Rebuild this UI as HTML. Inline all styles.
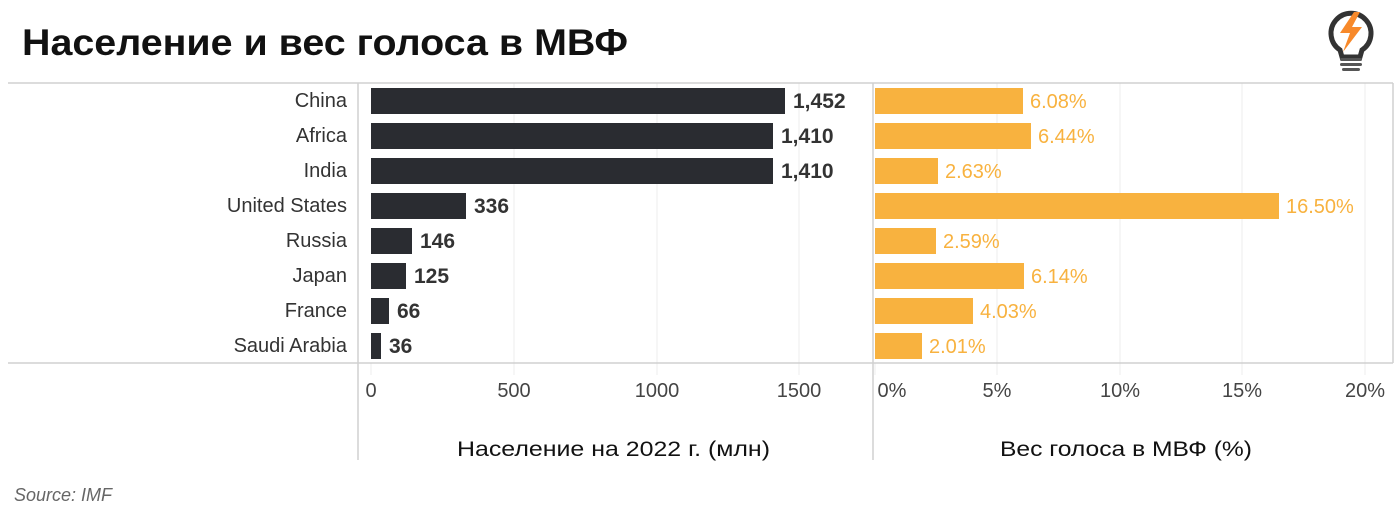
<!DOCTYPE html>
<html><head><meta charset="utf-8"><style>
body{margin:0;background:#fff;width:1400px;height:525px;overflow:hidden;font-family:"Liberation Sans","DejaVu Sans",sans-serif}
</style></head><body>
<svg width="1400" height="525" xmlns="http://www.w3.org/2000/svg" font-family="'Liberation Sans','DejaVu Sans',sans-serif">
<text x="22" y="55" font-size="37" font-weight="bold" fill="#111" textLength="606" lengthAdjust="spacingAndGlyphs">Население и вес голоса в МВФ</text>
<g>
<path d="M1340 50 A20 20 0 1 1 1362 50 L1360 57 L1342 57 Z" fill="none" stroke="#333" stroke-width="5"/>
<polygon points="1354,12 1340,33 1350,33 1343,52 1362,27 1352,27 1360,12" fill="#f7892a"/>
<rect x="1340" y="58" width="22" height="3" rx="1.5" fill="#555"/>
<rect x="1340" y="63" width="22" height="3" rx="1.5" fill="#555"/>
<rect x="1342" y="68" width="18" height="3" rx="1.5" fill="#555"/>
</g>
<g stroke="#ececec" stroke-width="1">
<line x1="514" y1="83" x2="514" y2="375"/><line x1="657" y1="83" x2="657" y2="375"/><line x1="799" y1="83" x2="799" y2="375"/><line x1="371" y1="363" x2="371" y2="375"/>
<line x1="997" y1="83" x2="997" y2="375"/><line x1="1120" y1="83" x2="1120" y2="375"/><line x1="1242" y1="83" x2="1242" y2="375"/><line x1="1365" y1="83" x2="1365" y2="375"/><line x1="875" y1="363" x2="875" y2="375"/>
</g>
<g stroke="#d0d0d0" stroke-width="1.5">
<line x1="8" y1="83" x2="1393" y2="83"/><line x1="8" y1="363" x2="1393" y2="363"/>
<line x1="358" y1="83" x2="358" y2="460"/><line x1="873" y1="83" x2="873" y2="460"/><line x1="1393" y1="83" x2="1393" y2="363"/>
</g>
<g font-size="20" fill="#333" text-anchor="end">
<text x="347" y="107">China</text><text x="347" y="142">Africa</text><text x="347" y="177">India</text><text x="347" y="212">United States</text><text x="347" y="247">Russia</text><text x="347" y="282">Japan</text><text x="347" y="317">France</text><text x="347" y="352">Saudi Arabia</text>
</g>
<rect x="371" y="88" width="414" height="26" fill="#2a2c31"/><rect x="371" y="123" width="402" height="26" fill="#2a2c31"/><rect x="371" y="158" width="402" height="26" fill="#2a2c31"/><rect x="371" y="193" width="95" height="26" fill="#2a2c31"/><rect x="371" y="228" width="41" height="26" fill="#2a2c31"/><rect x="371" y="263" width="35" height="26" fill="#2a2c31"/><rect x="371" y="298" width="18" height="26" fill="#2a2c31"/><rect x="371" y="333" width="10" height="26" fill="#2a2c31"/>
<g font-size="21" font-weight="bold" fill="#333">
<text x="793" y="108">1,452</text><text x="781" y="143">1,410</text><text x="781" y="178">1,410</text><text x="474" y="213">336</text><text x="420" y="248">146</text><text x="414" y="283">125</text><text x="397" y="318">66</text><text x="389" y="353">36</text>
</g>
<rect x="875" y="88" width="148" height="26" fill="#f8b23f"/><rect x="875" y="123" width="156" height="26" fill="#f8b23f"/><rect x="875" y="158" width="63" height="26" fill="#f8b23f"/><rect x="875" y="193" width="404" height="26" fill="#f8b23f"/><rect x="875" y="228" width="61" height="26" fill="#f8b23f"/><rect x="875" y="263" width="149" height="26" fill="#f8b23f"/><rect x="875" y="298" width="98" height="26" fill="#f8b23f"/><rect x="875" y="333" width="47" height="26" fill="#f8b23f"/>
<g font-size="20" fill="#f8b23f">
<text x="1030" y="108">6.08%</text><text x="1038" y="143">6.44%</text><text x="945" y="178">2.63%</text><text x="1286" y="213">16.50%</text><text x="943" y="248">2.59%</text><text x="1031" y="283">6.14%</text><text x="980" y="318">4.03%</text><text x="929" y="353">2.01%</text>
</g>
<g font-size="20" fill="#444" text-anchor="middle">
<text x="371" y="397">0</text><text x="514" y="397">500</text><text x="657" y="397">1000</text><text x="799" y="397">1500</text>
<text x="892" y="397">0%</text><text x="997" y="397">5%</text><text x="1120" y="397">10%</text><text x="1242" y="397">15%</text><text x="1365" y="397">20%</text>
</g>
<g font-size="21" fill="#111">
<text x="457" y="456" textLength="313" lengthAdjust="spacingAndGlyphs">Население на 2022 г. (млн)</text>
<text x="1000" y="456" textLength="252" lengthAdjust="spacingAndGlyphs">Вес голоса в МВФ (%)</text>
</g>
<text x="14" y="501" font-size="18" font-style="italic" fill="#666">Source: IMF</text>
</svg>
</body></html>
